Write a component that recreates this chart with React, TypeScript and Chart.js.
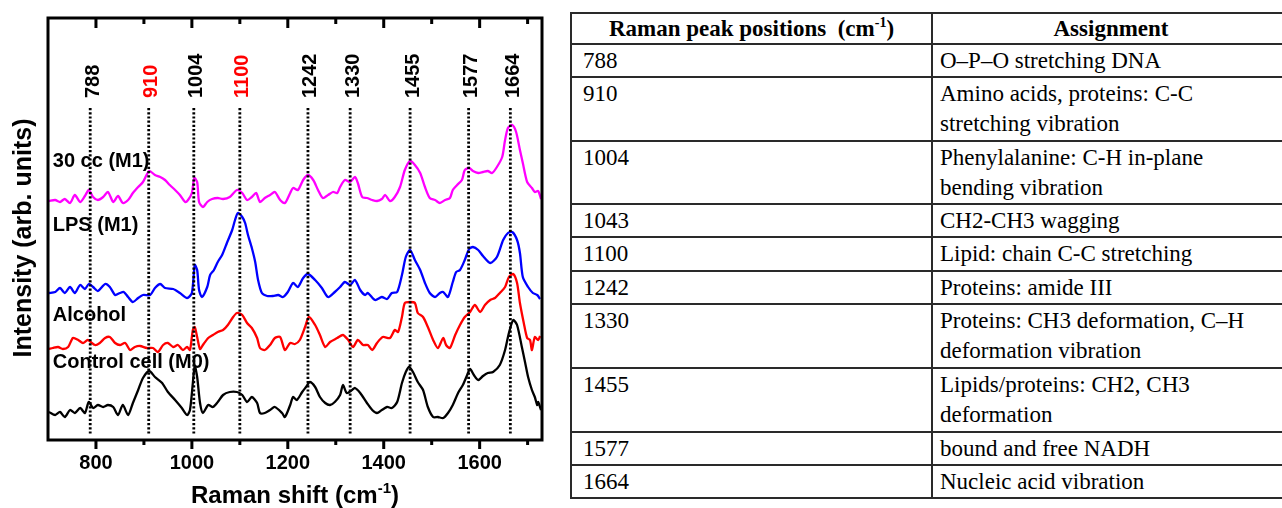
import React, { useEffect, useRef } from 'react';
import { Chart, registerables } from 'chart.js';

Chart.register(...registerables);

// ---------- axis ----------
const xMin = 700;
const xMax = 1730;
const yMin = 0;
const yMax = 422;
const xTickStep = 100;
const xLabeledTicks = [800, 1000, 1200, 1400, 1600];

// ---------- peak markers ----------
const peakPositions = [788, 910, 1004, 1100, 1242, 1330, 1455, 1577, 1664];
const peakLabels = ['788', '910', '1004', '1100', '1242', '1330', '1455', '1577', '1664'];
const highlightedPeaks = [910, 1100];
const markerTop = 332;
const markerBottom = 5;
const peakLabelBase = 342;

// ---------- series ----------
const seriesNames = ['30 cc (M1)', 'LPS (M1)', 'Alcohol', 'Control cell (M0)'];
const seriesColors = ['#ff00ff', '#0000ff', '#ff0000', '#000000'];
const seriesLabelX = [710, 710, 710, 710];
const seriesLabelY = [273, 209, 119, 72];

const cc30Spectrum = [
  [702, 239], [715, 240], [725, 238], [735, 241], [746, 237], [756, 245], [767, 238], [777, 244], [785, 250], [794, 243],
  [804, 240], [815, 243], [825, 248], [836, 238], [846, 244], [856, 237], [867, 240], [877, 247], [888, 253], [898, 258],
  [911, 269], [923, 265], [934, 263], [944, 260], [954, 255], [965, 250], [975, 245], [986, 238], [992, 240], [1000, 247],
  [1005, 262], [1011, 258], [1015, 238], [1023, 233], [1032, 238], [1042, 241], [1054, 242], [1065, 241], [1079, 243], [1094, 250],
  [1105, 247], [1115, 240], [1125, 243], [1134, 247], [1142, 238], [1152, 242], [1163, 245], [1173, 248], [1184, 240], [1194, 237],
  [1205, 247], [1211, 252], [1221, 250], [1232, 260], [1242, 265], [1253, 260], [1263, 250], [1273, 242], [1284, 245], [1294, 248],
  [1303, 247], [1309, 253], [1319, 260], [1330, 258], [1340, 263], [1346, 257], [1355, 243], [1365, 242], [1376, 240], [1386, 239],
  [1396, 241], [1403, 245], [1413, 239], [1423, 243], [1434, 253], [1444, 270], [1455, 279], [1465, 275], [1476, 267], [1486, 253],
  [1496, 242], [1507, 240], [1517, 237], [1528, 240], [1538, 242], [1544, 250], [1553, 255], [1563, 260], [1569, 270], [1578, 272],
  [1586, 269], [1597, 267], [1607, 268], [1617, 269], [1626, 267], [1636, 273], [1647, 283], [1653, 300], [1659, 312], [1668, 315],
  [1676, 308], [1684, 290], [1690, 277], [1699, 258], [1709, 252], [1715, 248], [1722, 249], [1728, 241],
];

const lpsSpectrum = [
  [702, 147], [715, 148], [725, 152], [735, 147], [746, 153], [756, 147], [767, 155], [777, 151], [785, 156], [794, 153],
  [804, 149], [819, 156], [829, 153], [840, 145], [850, 147], [858, 148], [867, 143], [877, 138], [888, 142], [898, 145],
  [913, 145], [923, 152], [934, 156], [944, 152], [961, 151], [975, 147], [990, 142], [1000, 147], [1006, 175], [1011, 170],
  [1015, 150], [1021, 143], [1032, 153], [1038, 165], [1046, 170], [1054, 178], [1063, 185], [1073, 197], [1084, 210], [1090, 220],
  [1096, 227], [1105, 223], [1111, 217], [1117, 205], [1125, 192], [1132, 178], [1138, 160], [1146, 147], [1157, 144], [1169, 144],
  [1180, 145], [1190, 143], [1200, 148], [1211, 157], [1221, 153], [1232, 162], [1242, 166], [1257, 160], [1271, 152], [1284, 143],
  [1298, 148], [1309, 153], [1319, 158], [1330, 155], [1340, 160], [1351, 150], [1361, 145], [1367, 147], [1382, 140], [1396, 143],
  [1407, 141], [1417, 147], [1428, 148], [1438, 165], [1446, 183], [1455, 190], [1465, 180], [1476, 170], [1486, 157], [1496, 147],
  [1507, 143], [1517, 147], [1524, 148], [1534, 143], [1544, 158], [1551, 168], [1559, 170], [1569, 180], [1578, 191], [1586, 193],
  [1597, 190], [1607, 184], [1622, 177], [1636, 183], [1649, 200], [1659, 207], [1668, 208], [1678, 200], [1684, 187], [1690, 163],
  [1701, 153], [1711, 147], [1720, 145], [1726, 141],
];

const alcoholSpectrum = [
  [702, 91], [710, 92], [721, 93], [731, 91], [742, 93], [752, 102], [763, 100], [773, 97], [783, 100], [798, 95],
  [808, 97], [819, 102], [829, 103], [840, 97], [850, 95], [861, 97], [871, 90], [881, 93], [892, 94], [906, 92],
  [919, 92], [929, 88], [940, 95], [950, 97], [961, 93], [971, 95], [981, 90], [990, 93], [996, 90], [1002, 110],
  [1006, 113], [1011, 103], [1017, 91], [1023, 95], [1034, 102], [1044, 105], [1054, 108], [1065, 110], [1075, 115], [1086, 123],
  [1094, 127], [1105, 125], [1115, 117], [1125, 112], [1136, 102], [1142, 92], [1152, 90], [1163, 95], [1173, 102], [1184, 103],
  [1194, 90], [1205, 97], [1215, 96], [1225, 100], [1236, 113], [1244, 123], [1257, 115], [1267, 105], [1278, 93], [1288, 98],
  [1303, 102], [1315, 105], [1326, 100], [1336, 93], [1346, 100], [1357, 95], [1367, 95], [1376, 90], [1386, 97], [1398, 103],
  [1413, 102], [1423, 110], [1430, 108], [1438, 123], [1444, 137], [1455, 138], [1465, 137], [1471, 127], [1482, 123], [1492, 113],
  [1503, 100], [1513, 92], [1524, 102], [1530, 95], [1538, 92], [1549, 105], [1559, 115], [1569, 123], [1580, 128], [1590, 135],
  [1601, 128], [1611, 135], [1622, 140], [1632, 142], [1642, 147], [1653, 153], [1661, 163], [1670, 166], [1678, 157], [1684, 137],
  [1692, 117], [1699, 102], [1705, 100], [1709, 90], [1715, 103], [1722, 100], [1726, 104],
];

const controlSpectrum = [
  [702, 28], [715, 25], [725, 28], [735, 23], [746, 30], [756, 27], [767, 32], [777, 27], [785, 38], [794, 32],
  [804, 35], [815, 33], [825, 35], [836, 33], [846, 25], [856, 35], [867, 25], [877, 37], [888, 50], [898, 62],
  [911, 69], [923, 63], [938, 57], [950, 48], [965, 40], [979, 32], [990, 25], [996, 30], [1002, 57], [1006, 74],
  [1011, 63], [1017, 37], [1023, 27], [1034, 35], [1044, 33], [1054, 38], [1065, 45], [1079, 48], [1094, 48], [1105, 45],
  [1115, 38], [1125, 43], [1136, 37], [1142, 27], [1152, 27], [1163, 30], [1173, 33], [1188, 27], [1194, 23], [1205, 35],
  [1211, 43], [1219, 40], [1230, 48], [1238, 53], [1246, 58], [1257, 53], [1267, 43], [1278, 37], [1288, 35], [1298, 38],
  [1309, 45], [1315, 55], [1323, 47], [1334, 50], [1340, 52], [1351, 47], [1365, 37], [1376, 30], [1386, 27], [1396, 30],
  [1407, 33], [1417, 32], [1428, 38], [1438, 57], [1446, 68], [1453, 73], [1461, 68], [1471, 58], [1482, 50], [1492, 33],
  [1503, 23], [1513, 23], [1524, 22], [1534, 27], [1544, 35], [1555, 47], [1565, 55], [1574, 65], [1580, 71], [1588, 65],
  [1597, 60], [1607, 64], [1617, 67], [1628, 68], [1642, 75], [1653, 90], [1661, 107], [1670, 120], [1678, 115], [1688, 93],
  [1695, 77], [1701, 63], [1709, 50], [1715, 43], [1720, 35], [1722, 38], [1728, 30],
];

const spectra = [cc30Spectrum, lpsSpectrum, alcoholSpectrum, controlSpectrum];

// ---------- table ----------
const tablePeaks = ['788', '910', '1004', '1043', '1100', '1242', '1330', '1455', '1577', '1664'];
const tableAssignments = [
  ['O\u2013P\u2013O stretching DNA'],
  ['Amino acids, proteins:  C-C', 'stretching vibration'],
  ['Phenylalanine: C-H in-plane', 'bending vibration'],
  ['CH2-CH3 wagging'],
  ['Lipid: chain C-C stretching'],
  ['Proteins: amide III'],
  ['Proteins: CH3 deformation, C\u2013H', 'deformation vibration'],
  ['Lipids/proteins: CH2, CH3', 'deformation'],
  ['bound and free NADH'],
  ['Nucleic acid vibration'],
];
const tableRowHeights = [32.5, 63.5, 63.5, 32.5, 33.5, 30.5, 64.5, 63.5, 30.5, 32.5];

const SANS = "'Liberation Sans', Arial, Helvetica, sans-serif";
const SERIF = "'Liberation Serif', 'Times New Roman', Times, serif";

const decorPlugin = {
  id: 'decor',
  afterDatasetsDraw(chart: any) {
    const { ctx, chartArea: a, scales } = chart;
    const x = scales.x;
    const y = scales.y;
    ctx.save();

    // series names
    ctx.fillStyle = '#000';
    ctx.font = `bold 20px ${SANS}`;
    ctx.textAlign = 'left';
    ctx.textBaseline = 'alphabetic';
    seriesNames.forEach((n, i) => {
      ctx.fillText(n, x.getPixelForValue(seriesLabelX[i]), y.getPixelForValue(seriesLabelY[i]));
    });

    // dotted peak markers
    ctx.strokeStyle = '#000';
    ctx.lineWidth = 2.8;
    ctx.setLineDash([2.2, 2]);
    peakPositions.forEach((p) => {
      const px = x.getPixelForValue(p);
      ctx.beginPath();
      ctx.moveTo(px, y.getPixelForValue(markerTop));
      ctx.lineTo(px, y.getPixelForValue(markerBottom));
      ctx.stroke();
    });
    ctx.setLineDash([]);

    // peak labels (rotated)
    ctx.font = `bold 20px ${SANS}`;
    peakPositions.forEach((p, i) => {
      const px = x.getPixelForValue(p);
      const py = y.getPixelForValue(peakLabelBase);
      ctx.save();
      ctx.translate(px + 8.5, py);
      ctx.rotate(-Math.PI / 2);
      ctx.fillStyle = highlightedPeaks.includes(p) ? '#ff0000' : '#000';
      ctx.textAlign = 'left';
      ctx.textBaseline = 'alphabetic';
      ctx.fillText(peakLabels[i], 0, 0);
      ctx.restore();
    });

    // frame
    ctx.strokeStyle = '#000';
    ctx.lineWidth = 3;
    ctx.strokeRect(a.left, a.top, a.right - a.left, a.bottom - a.top);

    // ticks: bottom outward, top inward
    ctx.lineWidth = 3;
    x.ticks.forEach((t: any) => {
      if (t.value <= x.min || t.value >= x.max) return;
      const px = x.getPixelForValue(t.value);
      const major = t.value % 200 === 0;
      const lenB = major ? 9 : 5;
      const lenT = major ? 10 : 6;
      ctx.beginPath();
      ctx.moveTo(px, a.bottom);
      ctx.lineTo(px, a.bottom + lenB);
      ctx.moveTo(px, a.top);
      ctx.lineTo(px, a.top + lenT);
      ctx.stroke();
    });

    // y title
    ctx.fillStyle = '#000';
    ctx.font = `bold 25px ${SANS}`;
    ctx.save();
    ctx.translate(a.left - 17, (a.top + a.bottom) / 2 + 9);
    ctx.rotate(-Math.PI / 2);
    ctx.textAlign = 'center';
    ctx.textBaseline = 'alphabetic';
    ctx.fillText('Intensity (arb. units)', 0, 0);
    ctx.restore();

    // x title with superscript
    const p1 = 'Raman shift (cm';
    const sup = '-1';
    const p3 = ')';
    ctx.font = `bold 24px ${SANS}`;
    const w1 = ctx.measureText(p1).width;
    const w3 = ctx.measureText(p3).width;
    ctx.font = `bold 15px ${SANS}`;
    const ws = ctx.measureText(sup).width;
    const cx = (a.left + a.right) / 2;
    const by = a.bottom + 63;
    let sx = cx - (w1 + ws + w3) / 2;
    ctx.textAlign = 'left';
    ctx.font = `bold 24px ${SANS}`;
    ctx.fillText(p1, sx, by);
    sx += w1;
    ctx.font = `bold 15px ${SANS}`;
    ctx.fillText(sup, sx, by - 10);
    sx += ws;
    ctx.font = `bold 24px ${SANS}`;
    ctx.fillText(p3, sx, by);

    ctx.restore();
  },
};

function SpectraChart() {
  const canvasRef = useRef<HTMLCanvasElement | null>(null);
  useEffect(() => {
    const canvas = canvasRef.current;
    if (!canvas) return;
    const chart = new Chart(canvas, {
      type: 'line',
      data: {
        datasets: spectra.map((s, i) => ({
          label: seriesNames[i],
          data: s.map(([xv, yv]) => ({ x: xv, y: yv })),
          borderColor: seriesColors[i],
          backgroundColor: seriesColors[i],
          borderWidth: 2.3,
          pointRadius: 0,
          tension: 0.25,
          fill: false,
        })),
      },
      options: {
        animation: false,
        responsive: false,
        devicePixelRatio: 1,
        layout: { padding: { left: 48, top: 18, right: 18, bottom: 0 } },
        plugins: { legend: { display: false }, tooltip: { enabled: false } },
        scales: {
          x: {
            type: 'linear',
            min: xMin,
            max: xMax,
            grid: { display: false, drawTicks: false },
            border: { display: false },
            ticks: {
              stepSize: xTickStep,
              includeBounds: false,
              autoSkip: false,
              maxRotation: 0,
              minRotation: 0,
              padding: 11,
              color: '#000',
              font: { family: SANS, size: 20, weight: 'bold' },
              callback: (v: any) => (xLabeledTicks.includes(Number(v)) ? String(v) : ''),
            },
            afterFit: (s: any) => {
              s.height = 68;
            },
          },
          y: { display: false, min: yMin, max: yMax },
        },
      },
      plugins: [decorPlugin],
    } as any);
    return () => chart.destroy();
  }, []);
  return <canvas ref={canvasRef} width={560} height={508} style={{ display: 'block', width: 560, height: 508 }} />;
}

function PeakTable() {
  const border = '2px solid #2a2a2a';
  const headCell: React.CSSProperties = {
    border,
    padding: 0,
    textAlign: 'center',
    verticalAlign: 'middle',
    fontWeight: 'bold',
    lineHeight: '28px',
    whiteSpace: 'nowrap',
  };
  const cell1: React.CSSProperties = {
    border,
    padding: '1px 0 0 11px',
    verticalAlign: 'top',
    lineHeight: '30px',
    whiteSpace: 'nowrap',
    overflow: 'hidden',
  };
  const cell2: React.CSSProperties = { ...cell1, padding: '1px 0 0 7px' };
  return (
    <table
      style={{
        position: 'absolute',
        left: 570,
        top: 12,
        borderCollapse: 'collapse',
        tableLayout: 'fixed',
        width: 719,
        fontFamily: SERIF,
        fontSize: 23,
        color: '#000',
      }}
    >
      <colgroup>
        <col style={{ width: 361 }} />
        <col style={{ width: 358 }} />
      </colgroup>
      <thead>
        <tr style={{ height: 31 }}>
          <th style={headCell}>
            Raman peak positions{'\u00a0 '}(cm<sup style={{ fontSize: 14, lineHeight: 0, verticalAlign: 'super' }}>-1</sup>)
          </th>
          <th style={headCell}>Assignment</th>
        </tr>
      </thead>
      <tbody>
        {tablePeaks.map((p, i) => (
          <tr key={p} style={{ height: tableRowHeights[i] }}>
            <td style={cell1}>{p}</td>
            <td style={cell2}>
              {tableAssignments[i].map((line, j) => (
                <div key={j}>{line}</div>
              ))}
            </td>
          </tr>
        ))}
      </tbody>
    </table>
  );
}

export default function App() {
  return (
    <div
      style={{
        position: 'fixed',
        left: 0,
        top: 0,
        width: 1282,
        height: 508,
        background: '#fff',
        overflow: 'hidden',
      }}
    >
      <div style={{ position: 'absolute', left: 0, top: 0, width: 560, height: 508 }}>
        <SpectraChart />
      </div>
      <PeakTable />
    </div>
  );
}
